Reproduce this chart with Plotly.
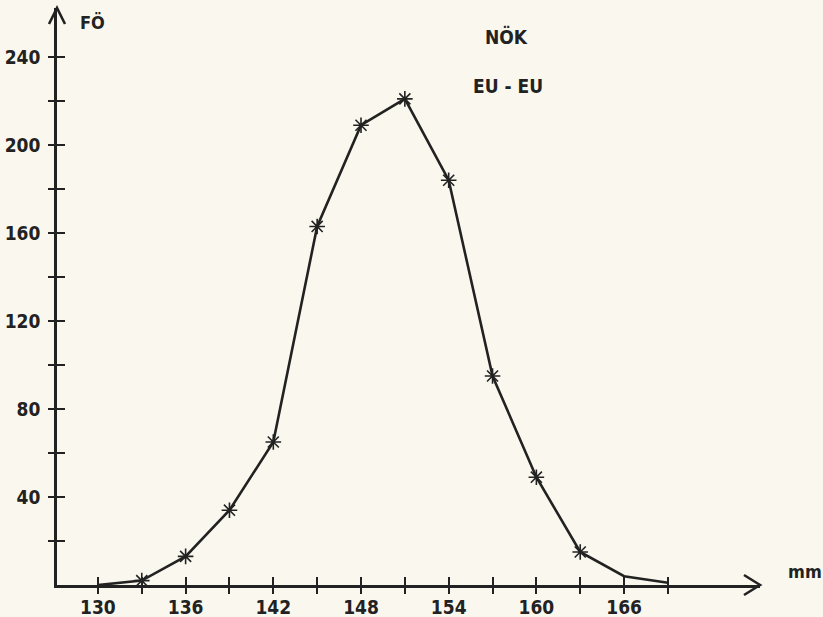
import plotly.graph_objects as go

# data
length_mm = [130, 133, 136, 139, 142, 145, 148, 151, 154, 157, 160, 163, 166, 169]
count_fo = [0, 2, 13, 34, 65, 163, 209, 221, 184, 95, 49, 15, 4, 1]
x_ticks = list(range(130, 170, 3))
x_labels = [f"<b>{v}</b>" if (v - 130) % 6 == 0 else "" for v in x_ticks]
y_ticks = list(range(20, 241, 20))
y_labels = [f"<b>{v}</b>" if v % 40 == 0 else "" for v in y_ticks]

INK = "#222222"
BG = "#faf8ee"
FONT = "Liberation Sans Narrow, DejaVu Sans Condensed, DejaVu Sans, sans-serif"

fig = go.Figure()
fig.add_trace(go.Scatter(x=length_mm, y=count_fo, mode="lines",
                         line=dict(color=INK, width=2.6), showlegend=False,
                         hoverinfo="skip"))
fig.add_trace(go.Scatter(x=length_mm[1:12], y=count_fo[1:12], mode="markers",
                         marker=dict(symbol="asterisk-open", size=13, color=INK,
                                     line=dict(color=INK, width=1.6)),
                         showlegend=False))
fig.add_trace(go.Scatter(x=[length_mm[0]], y=[count_fo[0]], xaxis="x2", yaxis="y2",
                         mode="markers", marker=dict(opacity=0), showlegend=False,
                         hoverinfo="skip"))

xr = [127.2, 175.3]
yr = [0, 262.3]
tickfont = dict(family=FONT, size=19, color=INK)
fig.update_layout(
    width=823, height=617,
    margin=dict(l=57, r=63, t=8, b=32),
    paper_bgcolor=BG, plot_bgcolor=BG,
    font=dict(family=FONT, color=INK),
    xaxis=dict(range=xr, showgrid=False, zeroline=False, showline=True,
               linecolor=INK, linewidth=2.6, ticks="inside", ticklen=8,
               tickwidth=2, tickcolor=INK, tickvals=x_ticks, ticktext=x_labels,
               tickfont=tickfont, automargin=False, ticklabelstandoff=3),
    yaxis=dict(range=yr, showgrid=False, zeroline=False, showline=True,
               linecolor=INK, linewidth=2.6, ticks="inside", ticklen=8,
               tickwidth=2, tickcolor=INK, tickvals=y_ticks, ticktext=y_labels,
               tickfont=tickfont, automargin=False, ticklabelstandoff=10),
    xaxis2=dict(range=xr, overlaying="x", anchor="y2", side="bottom",
                showgrid=False, zeroline=False, ticks="outside", ticklen=8,
                tickwidth=2, tickcolor=INK, tickvals=x_ticks,
                showticklabels=False, automargin=False),
    yaxis2=dict(range=yr, overlaying="y", anchor="x2", side="left",
                showgrid=False, zeroline=False, ticks="outside", ticklen=8,
                tickwidth=2, tickcolor=INK, tickvals=y_ticks,
                showticklabels=False, automargin=False),
)

fig.add_shape(type="path", xref="paper", yref="paper", xsizemode="pixel",
              ysizemode="pixel", xanchor=1, yanchor=0,
              path="M -16 10 L 0 0 L -16 -10", line=dict(color=INK, width=2.6))
fig.add_shape(type="path", xref="paper", yref="paper", xsizemode="pixel",
              ysizemode="pixel", xanchor=0, yanchor=1,
              path="M -8 -16 L 0 0 L 8 -16", line=dict(color=INK, width=2.6))

def label(text, x, y, size=19, bold=True):
    fig.add_annotation(text=f"<b>{text}</b>" if bold else text, xref="paper",
                       yref="paper", x=x, y=y, xanchor="center", yanchor="middle",
                       showarrow=False, font=dict(family=FONT, size=size, color=INK))

pw, ph = 823 - 57 - 63, 617 - 8 - 32
def px(xp, yp):
    return (xp - 57) / pw, (617 - 32 - yp) / ph

label("FÖ", *px(92, 22), size=18)
label("mm", *px(805, 571), size=18)
label("NÖK", *px(506, 36), size=19)
label("EU - EU", *px(508, 86), size=19)

fig.write_html("out.html", config={"displayModeBar": False},
               post_script="document.body.style.margin='0';"
                           "document.body.style.overflow='hidden';"
                           f"document.body.style.background='{BG}';")
